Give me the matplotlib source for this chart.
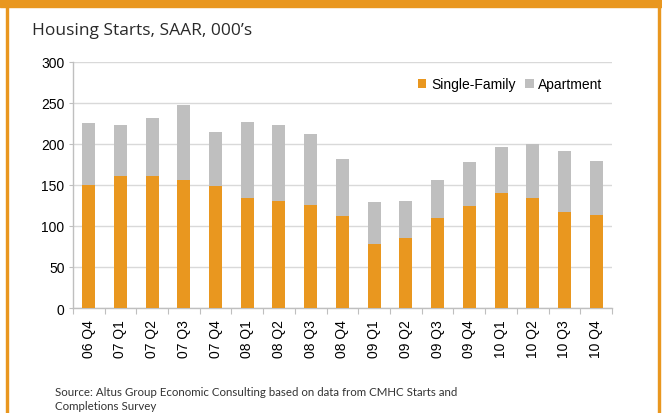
import numpy as np
import matplotlib.pyplot as plt
from matplotlib.patches import Rectangle

# dados (milhares, SAAR)
quarters = ['06 Q4', '07 Q1', '07 Q2', '07 Q3', '07 Q4', '08 Q1', '08 Q2', '08 Q3', '08 Q4',
            '09 Q1', '09 Q2', '09 Q3', '09 Q4', '10 Q1', '10 Q2', '10 Q3', '10 Q4']
single_family = [150, 161, 161, 156, 149, 134, 130.5, 125.5, 112,
                 78, 85, 110, 124, 140, 134, 117, 113]
apartment = [76, 62, 71, 91, 65, 93, 93, 87, 70,
             51, 45.5, 46, 54, 56.5, 66, 74.5, 66.5]

orange = '#E9971F'
grey = '#BFBFBF'

fig = plt.figure(figsize=(6.62, 4.14), dpi=100)
ax = fig.add_axes([0.110, 0.2536, 0.8145, 0.5944])

x = np.arange(len(quarters))
ax.bar(x, single_family, width=0.41, color=orange, label='Single-Family', zorder=3)
ax.bar(x, apartment, width=0.41, bottom=single_family, color=grey, label='Apartment', zorder=3)

ax.set_xlim(-0.5, len(quarters) - 0.5)
ax.set_ylim(0, 300)
ax.set_yticks(range(0, 301, 50))
ax.grid(axis='y', color='#D9D9D9', linewidth=1, zorder=0)

ax.set_xticks(x)
ax.set_xticklabels(quarters, rotation=90, fontsize=10, family='Liberation Sans', va='top')
ax.set_xticks(np.arange(-0.5, len(quarters)), minor=True)
ax.tick_params(axis='x', which='major', length=0, pad=8)
ax.tick_params(axis='x', which='minor', length=4, color='#BFBFBF', width=0.8)
ax.tick_params(axis='y', length=3, color='#BFBFBF', width=0.8, labelsize=10, pad=3)
for lab in ax.get_yticklabels():
    lab.set_family('Liberation Sans')

for s in ['top', 'right']:
    ax.spines[s].set_visible(False)
for s in ['left', 'bottom']:
    ax.spines[s].set_color('#BFBFBF')
    ax.spines[s].set_linewidth(1)

ax.legend(loc='upper right', bbox_to_anchor=(0.993, 0.96), ncol=2, frameon=False,
          prop={'family': 'Liberation Sans', 'size': 10}, handlelength=0.6, handleheight=0.6,
          handletextpad=0.35, columnspacing=0.7, borderaxespad=0)

# moldura laranja
fig.patches.append(Rectangle((0, 0.981), 1, 0.019, transform=fig.transFigure, color=orange, zorder=0))
fig.patches.append(Rectangle((0.0085, 0), 0.003, 1, transform=fig.transFigure, color=orange, zorder=0))
fig.patches.append(Rectangle((0.994, 0), 0.003, 1, transform=fig.transFigure, color=orange, zorder=0))

fig.text(0.048, 0.925, "Housing Starts, SAAR, 000\u2019s", fontsize=12.5, family='Open Sans',
         color='#2A2A2A', va='center')
fig.text(0.083, 0.035, 'Source: Altus Group Economic Consulting based on data from CMHC Starts and\nCompletions Survey',
         fontsize=8.3, family='Lato', color='#333333', va='center', linespacing=1.4)

plt.savefig('out.png', dpi=100)
